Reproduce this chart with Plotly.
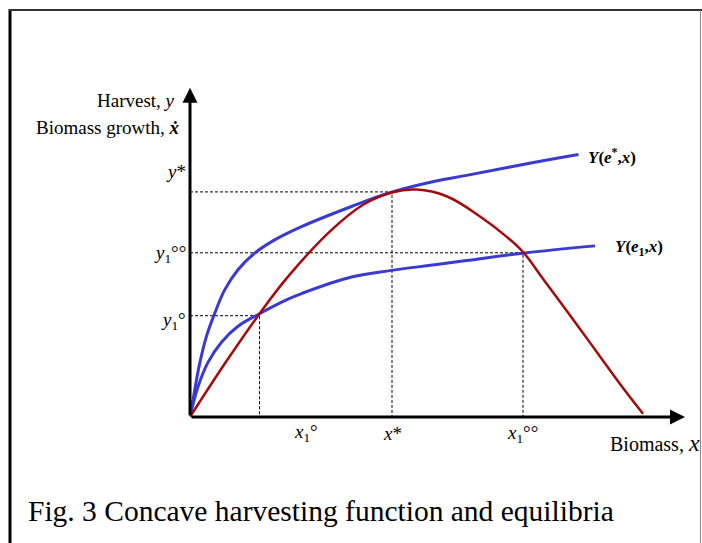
import plotly.graph_objects as go

# ---- data (biomass x, growth / harvest y) ----
growth_x = [0, 6.9, 13.9, 19.6, 28.0, 34.7, 40.5, 45.3, 51.3, 58.0, 63.3, 66.7,
            70.0, 74.0, 78.0, 82.0, 86.0, 90.6]
growth_y = [0, 16.0, 31.2, 42.4, 56.1, 64.2, 67.9, 68.7, 66.7, 60.6, 54.5, 49.7,
            43.0, 34.8, 26.6, 18.3, 10.0, 1.0]

harv_star_x = [0, 0.94, 1.94, 3.26, 4.94, 6.94, 9.6, 12.94, 16.94, 22.3, 32.3, 40.3,
               49.0, 55.3, 68.7, 77.7]
harv_star_y = [0, 8.1, 16.2, 24.2, 31.3, 38.4, 44.5, 49.5, 53.5, 57.5, 63.6, 67.9,
               71.2, 73.0, 76.9, 79.3]

harv_e1_x = [0, 1.6, 3.6, 6.3, 9.6, 13.9, 19.6, 22.3, 32.3, 40.3, 49.0, 55.3, 66.6, 81.0]
harv_e1_y = [0, 9.1, 16.5, 22.6, 27.4, 31.2, 35.6, 37.3, 42.3, 44.3, 46.0, 47.25, 49.5, 51.7]

# equilibria
eq_x = [13.9, 40.4, 66.6]
eq_y = [30.6, 68.0, 49.6]
x_labels = ["<i>x</i><sub>1</sub>°", "<i>x</i>*", "<i>x</i><sub>1</sub>°°"]
y_labels = ["<i>y</i><sub>1</sub>°", "<i>y</i>*", "<i>y</i><sub>1</sub>°°"]

RED = "#A50A0A"
BLUE = "#3A3AD2"
FONT = "Liberation Serif"

fig = go.Figure()

# dashed guide lines
for ex, ey in zip(eq_x, eq_y):
    fig.add_trace(go.Scatter(x=[0, ex, ex], y=[ey, ey, 0], mode="lines",
                             line=dict(color="black", width=1, dash="3px,2px"),
                             hoverinfo="skip", showlegend=False))

fig.add_trace(go.Scatter(x=harv_star_x, y=harv_star_y, mode="lines",
                         line=dict(color=BLUE, width=3, shape="spline", smoothing=1.1),
                         showlegend=False))
fig.add_trace(go.Scatter(x=harv_e1_x, y=harv_e1_y, mode="lines",
                         line=dict(color=BLUE, width=3, shape="spline", smoothing=1.1),
                         showlegend=False))
fig.add_trace(go.Scatter(x=growth_x, y=growth_y, mode="lines",
                         line=dict(color=RED, width=2.5, shape="spline", smoothing=1.1),
                         showlegend=False))

# plot area spans px 190..690 horizontally and 86.7..416.7 vertically
def PX(px):
    return (px - 190) / 500.0

def PY(py):
    return (416.7 - py) / 330.0

annotations = []
# axis arrows
annotations.append(dict(x=99, y=0, ax=0, ay=0, xref="x", yref="y", axref="x", ayref="y",
                        text="", showarrow=True, arrowhead=2, arrowsize=1, arrowwidth=3,
                        arrowcolor="black", standoff=0, startstandoff=0))
annotations.append(dict(x=0, y=99.5, ax=0, ay=0, xref="x", yref="y", axref="x", ayref="y",
                        text="", showarrow=True, arrowhead=2, arrowsize=1, arrowwidth=3,
                        arrowcolor="black", standoff=0, startstandoff=0))

tick_font = dict(family=FONT, size=19, color="black")
title_font = dict(family=FONT, size=19, color="black")

def lab(px, py, text, xanchor="center", font=tick_font):
    annotations.append(dict(x=PX(px), y=PY(py), xref="paper", yref="paper", text=text,
                            showarrow=False, font=font, xanchor=xanchor, yanchor="middle"))

# tick-like labels
lab(306, 433, x_labels[0])
lab(392, 433, x_labels[1])
lab(522, 434, x_labels[2])
lab(188, 321, y_labels[0], "right")
lab(188, 172, y_labels[1], "right")
lab(188, 254, y_labels[2], "right")

# axis titles
lab(177, 101, "Harvest, <i>y</i>", "right", title_font)
lab(182, 128, "Biomass growth, <b><i>x\u0307</i></b>", "right", title_font)
lab(702, 443, "Biomass, <i><span style='font-size:24px'>x</span></i>", "right",
    dict(family=FONT, size=20, color="black"))

# curve labels
cf = dict(family=FONT, size=17, color="black")
lab(586, 156, "<b><i>Y</i>(<i>e</i><sup>*</sup>,<i>x</i>)</b>", "left", cf)
lab(613, 248, "<b><i>Y</i>(<i>e</i><sub>1</sub>,<i>x</i>)</b>", "left", cf)

# caption
lab(26, 510, "Fig. 3 Concave harvesting function and equilibria", "left",
    dict(family=FONT, size=29.5, color="black"))

shapes = [
    dict(type="line", xref="paper", yref="paper", x0=PX(10), x1=PX(10),
         y0=PY(10), y1=PY(545), line=dict(color="black", width=3)),
    dict(type="line", xref="paper", yref="paper", x0=PX(9), x1=PX(702),
         y0=PY(11), y1=PY(11), line=dict(color="#333333", width=2)),
    dict(type="line", xref="paper", yref="paper", x0=PX(700.5), x1=PX(700.5),
         y0=PY(11), y1=PY(545), line=dict(color="#888888", width=1)),
]

fig.update_layout(
    width=702, height=543,
    margin=dict(l=190, r=12, t=86.3, b=126.3, pad=0, autoexpand=False),
    paper_bgcolor="white", plot_bgcolor="white",
    xaxis=dict(range=[0, 100], visible=False, fixedrange=True),
    yaxis=dict(range=[0, 100], visible=False, fixedrange=True),
    annotations=annotations,
    shapes=shapes,
    showlegend=False,
)

fig.write_html("out.html", config={"displayModeBar": False},
               post_script="document.body.style.margin='0px';")
